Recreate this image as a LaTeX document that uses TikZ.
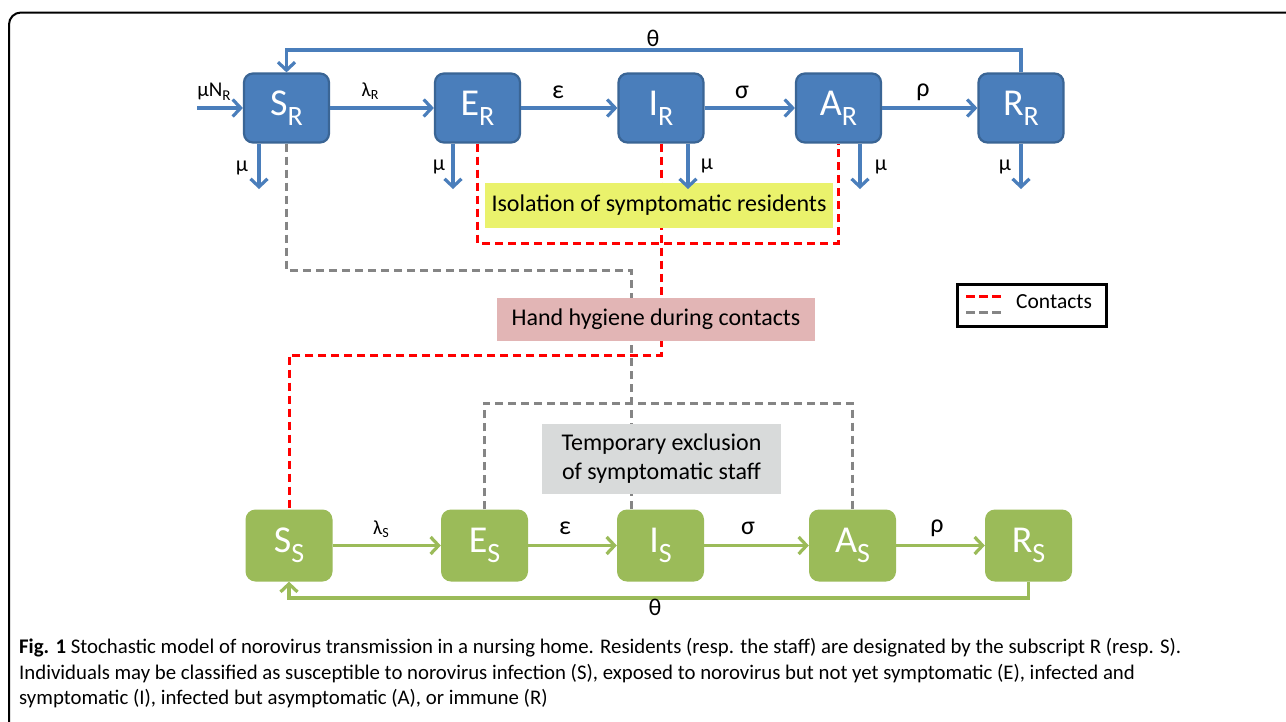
\documentclass[tikz,border=0pt]{standalone}
\usepackage{fontspec}
\setmainfont{Carlito}
\usetikzlibrary{arrows.meta}
\definecolor{bfill}{HTML}{4A7EBB}
\definecolor{bdraw}{HTML}{3A6595}
\definecolor{gfill}{HTML}{9BBB59}
\definecolor{yelbox}{HTML}{EAF26C}
\definecolor{pinkbox}{HTML}{E2B5B5}
\definecolor{graybox}{HTML}{D8DADA}
\definecolor{dgray}{HTML}{858585}
\newcommand\fs[1]{\fontsize{#1}{#1}\selectfont}
\newcommand\cmp[2]{{\fs{38}#1\raisebox{-10pt}{\fs{28}#2}}}
\begin{document}
\begin{tikzpicture}[x=1pt,y=-1pt,
  resbox/.style={draw=bdraw,line width=2.2pt,fill=bfill,rounded corners=9pt,minimum width=85pt,minimum height=69pt,text=white,inner sep=0pt},
  stfbox/.style={fill=gfill,rounded corners=10pt,minimum width=87pt,minimum height=72pt,text=white,inner sep=0pt},
  barrow/.style={draw=bfill,line width=3.2pt,-{Straight Barb[length=8pt,width=17pt]}},
  garrow/.style={draw=gfill,line width=3.2pt,-{Straight Barb[length=8pt,width=17pt]}},
  reddash/.style={draw=red,line width=3pt,dash pattern=on 8pt off 5pt},
  graydash/.style={draw=dgray,line width=3pt,dash pattern=on 8pt off 5pt},
  lab/.style={inner sep=0pt,font=\fs{22}},
  glab/.style={inner sep=0pt,font=\fs{26}},
  ctrl/.style={inner sep=0pt,font=\fs{24},align=center},
  captxt/.style={anchor=base west,inner sep=0pt,font=\fs{20.8}}
]
\useasboundingbox (0,0) rectangle (1286,721);
\fill[white] (0,0) rectangle (1286,721);
% frame
\draw[line width=2pt,rounded corners=12pt] (9,730) -- (9,12.5) -- (1300,12.5);

% residents
\node[resbox] (SR) at (286.5,108) {\cmp{S}{R}};
\node[resbox] (ER) at (477.5,108) {\cmp{E}{R}};
\node[resbox] (IR) at (661,108) {\cmp{I}{R}};
\node[resbox] (AR) at (838.5,108) {\cmp{A}{R}};
\node[resbox] (RR) at (1021,108) {\cmp{R}{R}};

% staff
\node[stfbox] (SS) at (289,545.5) {\cmp{S}{S}};
\node[stfbox] (ES) at (484.5,545.5) {\cmp{E}{S}};
\node[stfbox] (IS) at (660.5,545.5) {\cmp{I}{S}};
\node[stfbox] (AS) at (852.5,545.5) {\cmp{A}{S}};
\node[stfbox] (RS) at (1028.5,545.5) {\cmp{R}{S}};

% coordinates
\coordinate (inN) at (197,108);
\coordinate (thT) at (1021,50);
\coordinate (muS) at (259,189);
\coordinate (muE) at (453,189);
\coordinate (muI) at (688,189);
\coordinate (muA) at (860,189);
\coordinate (muR) at (1021,189);
\coordinate (isoB) at (477.5,243);
\coordinate (redH) at (661,355);
\coordinate (grayH) at (286.5,270);
\coordinate (grayV) at (631,270);
\coordinate (grayT) at (484.5,403);
\coordinate (thB) at (1028.5,598);

% dashed contact lines (behind boxes)
\draw[reddash] (ER.south) -- (isoB) -| (AR.south);
\draw[reddash] (IR.south) -- (redH) -| (SS.north);
\draw[graydash] (SR.south) -- (grayH) -- (grayV) -- (grayV |- IS.north);
\draw[graydash] (ES.north) -- (grayT) -| (AS.north);

% control boxes
\node[ctrl,fill=yelbox,minimum width=348pt,minimum height=45pt] (iso) at (659,205.5) {Isolation of symptomatic residents};
\node[ctrl,fill=pinkbox,minimum width=318pt,minimum height=43pt] (hand) at (656,319.5) {Hand hygiene during contacts};
\node[ctrl,fill=graybox,minimum width=239pt,minimum height=70pt,font=\fontsize{24}{29}\selectfont] (excl) at (661.5,459) {Temporary exclusion\\of symptomatic staff};

% residents arrows
\draw[barrow] (inN) -- (SR.west);
\draw[barrow] (SR) -- (ER);
\draw[barrow] (ER) -- (IR);
\draw[barrow] (IR) -- (AR);
\draw[barrow] (AR) -- (RR);
\draw[barrow] (RR.north) -- (thT) -| (SR.north);
\draw[barrow] (SR.south -| muS) -- (muS);
\draw[barrow] (ER.south -| muE) -- (muE);
\draw[barrow] (IR.south -| muI) -- (muI);
\draw[barrow] (AR.south -| muA) -- (muA);
\draw[barrow] (RR.south -| muR) -- (muR);

\node[lab,font=\fs{21}] (lmuN) at (214,92) {μN\raisebox{-4pt}{\fs{15}R}};
\node[lab,font=\fs{20}] (llamR) at (370,91) {λ\raisebox{-3pt}{\fs{14}R}};
\node[glab] (lepsR) at (558,92) {ε};
\node[glab] (lsigR) at (742,92) {σ};
\node[glab] (lrhoR) at (923,92) {ρ};
\node[glab,font=\fs{24}] (lthR) at (653,38) {θ};
\node[lab] (lmu1) at (242,168) {μ};
\node[lab] (lmu2) at (439,167) {μ};
\node[lab] (lmu3) at (707,166) {μ};
\node[lab] (lmu4) at (881,167) {μ};
\node[lab] (lmu5) at (1005,167) {μ};

% staff arrows
\draw[garrow] (SS) -- (ES);
\draw[garrow] (ES) -- (IS);
\draw[garrow] (IS) -- (AS);
\draw[garrow] (AS) -- (RS);
\draw[garrow] (RS.south) -- (thB) -| (SS.south);

\node[lab,font=\fs{20}] (llamS) at (381,529) {λ\raisebox{-3pt}{\fs{14}S}};
\node[glab] (lepsS) at (565,528) {ε};
\node[glab] (lsigS) at (748,528) {σ};
\node[glab] (lrhoS) at (937,528) {ρ};
\node[glab,font=\fs{24}] (lthS) at (655,607) {θ};

% legend
\node[draw=black,line width=3pt,minimum width=149pt,minimum height=42pt,inner sep=0pt] (leg) at (1031.5,305) {};
\coordinate (lr1) at (966,296);
\coordinate (lr2) at (1001,296);
\coordinate (lg1) at (966,312);
\coordinate (lg2) at (1001,312);
\draw[draw=red,line width=3pt,dash pattern=on 9pt off 4pt] (lr1) -- (lr2);
\draw[draw=dgray,line width=3pt,dash pattern=on 9pt off 4pt] (lg1) -- (lg2);
\node[anchor=west,inner sep=0pt,font=\fs{21.5}] (legt) at (1016,302) {Contacts};

% caption
\node[captxt] (cap1) at (19,653) {\textbf{Fig. 1} Stochastic model of norovirus transmission in a nursing home. Residents (resp. the staff) are designated by the subscript R (resp. S).};
\node[captxt] (cap2) at (19,679) {Individuals may be classified as susceptible to norovirus infection (S), exposed to norovirus but not yet symptomatic (E), infected and};
\node[captxt] (cap3) at (19,704) {symptomatic (I), infected but asymptomatic (A), or immune (R)};
\end{tikzpicture}
\end{document}
